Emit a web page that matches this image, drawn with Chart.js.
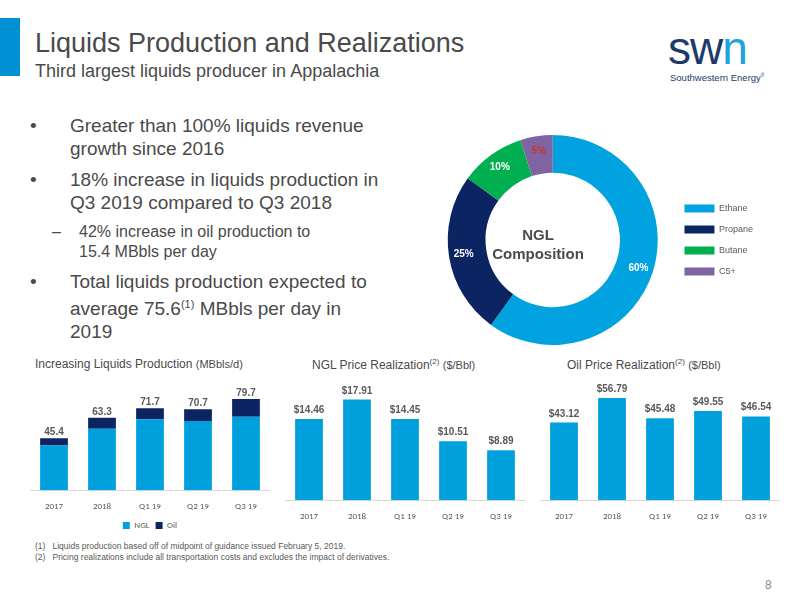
<!DOCTYPE html>
<html><head><meta charset="utf-8">
<script src="https://cdn.jsdelivr.net/npm/chart.js@4"></script>
<style>
body{margin:0;width:800px;height:600px;position:relative;background:#fff;font-family:"Liberation Sans",Arial,sans-serif;color:#595959;overflow:hidden}
.abs{position:absolute}
#bar{left:0;top:18px;width:20px;height:58px;background:#0091d5}
h1{position:absolute;left:35px;top:28px;margin:0;font-weight:normal;font-size:27px;color:#4a4a4a}
h2{position:absolute;left:35px;top:61px;margin:0;font-weight:normal;font-size:18px;color:#4a4a4a}
ul{position:absolute;left:70px;top:114px;margin:0;padding:0;list-style:none;font-size:19px;line-height:23px;color:#4a4a4a;width:322px}
ul li{position:relative;margin-bottom:8px}
ul li b{position:absolute;left:-40px;font-weight:normal}
ul li.sub{font-size:16px;line-height:20px;margin-left:9px;width:262px}
ul li.sub b{left:-27px}
.ct{font-size:12px;color:#4a4a4a}
.fn{font-size:8.5px;color:#595959;left:35px}
</style></head><body>
<div id="bar" class="abs"></div>
<h1>Liquids Production and Realizations</h1>
<h2>Third largest liquids producer in Appalachia</h2>
<div class="abs" style="left:668px;top:28px;font-size:46px;line-height:40px;letter-spacing:-1px"><span style="color:#1d3a6b">sw</span><span style="color:#1fa3dc">n</span></div>
<div class="abs" style="left:670px;top:72px;font-size:9.5px;color:#1d3a6b">Southwestern Energy<sup style="font-size:5px">®</sup></div>
<ul>
<li><b>•</b>Greater than 100% liquids revenue growth since 2016</li>
<li><b>•</b>18% increase in liquids production in Q3 2019 compared to Q3 2018</li>
<li class="sub"><b>–</b>42% increase in oil production to 15.4 MBbls per day</li>
<li><b>•</b>Total liquids production expected to average 75.6<sup style="font-size:11px">(1)</sup> MBbls per day in<br>2019</li>
</ul>
<div class="abs" style="left:433px;top:135px;width:330px;height:210px"><canvas id="donut"></canvas></div>
<div class="abs" style="left:488px;top:225px;width:100px;text-align:center;font-weight:bold;font-size:15px;color:#4a4a4a;line-height:19px">NGL<br>Composition</div>
<div class="abs ct" style="left:35px;top:357px">Increasing Liquids Production <span style="font-size:11px">(MBbls/d)</span></div>
<div class="abs ct" style="left:312px;top:357px">NGL Price Realization<sup style="font-size:8px">(2)</sup> <span style="font-size:11px">($/Bbl)</span></div>
<div class="abs ct" style="left:567px;top:357px">Oil Price Realization<sup style="font-size:8px">(2)</sup> <span style="font-size:11px">($/Bbl)</span></div>
<div class="abs" style="left:30px;top:375px;width:240px;height:165px"><canvas id="c1"></canvas></div>
<div class="abs" style="left:285px;top:375px;width:240px;height:150px"><canvas id="c2"></canvas></div>
<div class="abs" style="left:540px;top:375px;width:240px;height:150px"><canvas id="c3"></canvas></div>
<div class="abs fn" style="top:541px">(1)&nbsp;&nbsp;&nbsp;Liquids production based off of midpoint of guidance issued February 5, 2019.</div>
<div class="abs fn" style="top:552px">(2)&nbsp;&nbsp;&nbsp;Pricing realizations include all transportation costs and excludes the impact of derivatives.</div>
<div class="abs" style="left:765px;top:578px;font-size:12px;color:#888">8</div>
<script>
const periods = ['2017', '2018', 'Q1 19', 'Q2 19', 'Q3 19'];
const nglVolume = [39.0, 53.8, 62.0, 60.5, 64.2];
const oilVolume = [6.4, 9.5, 9.7, 10.2, 15.5];
const totalVolume = [45.4, 63.3, 71.7, 70.7, 79.7];
const nglPrice = [14.46, 17.91, 14.45, 10.51, 8.89];
const oilPrice = [43.12, 56.79, 45.48, 49.55, 46.54];
const nglParts = ['Ethane', 'Propane', 'Butane', 'C5+'];
const nglShare = [60, 25, 10, 5];

const BLUE = '#00a0dc', NAVY = '#0c2461';
Chart.defaults.font.family = 'Calibri, Carlito, "Liberation Sans", sans-serif';
Chart.defaults.color = '#595959';

// labels above bars
const topLabels = {
  id: 'topLabels',
  afterDatasetsDraw(chart, args, opts) {
    const ctx = chart.ctx;
    const last = chart.getDatasetMeta(chart.data.datasets.length - 1);
    ctx.save();
    ctx.font = 'bold 10px "Liberation Sans", sans-serif';
    ctx.fillStyle = '#595959';
    ctx.textAlign = 'center';
    last.data.forEach((bar, i) => {
      ctx.fillText(opts.fmt(opts.values[i]), bar.x, bar.y - 6);
    });
    ctx.restore();
  }
};

function barChart(id, datasets, values, fmt, max, legend) {
  new Chart(document.getElementById(id), {
    type: 'bar',
    data: { labels: periods, datasets: datasets },
    plugins: [topLabels],
    options: {
      responsive: true, maintainAspectRatio: false, animation: false,
      layout: { padding: { top: 10 } },
      plugins: {
        topLabels: { values: values, fmt: fmt },
        tooltip: { enabled: false },
        legend: {
          display: legend, position: 'bottom',
          labels: { boxWidth: 7, boxHeight: 7, font: { size: 9 }, padding: 6 }
        }
      },
      scales: {
        x: { stacked: true, grid: { display: false }, border: { color: '#d9d9d9' }, ticks: { font: { size: 9 } } },
        y: { stacked: true, display: false, min: 0, max: max }
      }
    }
  });
}

barChart('c1', [
  { label: 'NGL', data: nglVolume, backgroundColor: BLUE, categoryPercentage: 0.85, barPercentage: 0.68 },
  { label: 'Oil', data: oilVolume, backgroundColor: NAVY, categoryPercentage: 0.85, barPercentage: 0.68 }
], totalVolume, v => v.toFixed(1), 92, true);

barChart('c2', [
  { label: 'NGL', data: nglPrice, backgroundColor: BLUE, categoryPercentage: 0.85, barPercentage: 0.68 }
], nglPrice, v => '$' + v.toFixed(2), 20.5, false);

barChart('c3', [
  { label: 'Oil', data: oilPrice, backgroundColor: BLUE, categoryPercentage: 0.85, barPercentage: 0.68 }
], oilPrice, v => '$' + v.toFixed(2), 64, false);

const sliceLabels = {
  id: 'sliceLabels',
  afterDatasetsDraw(chart) {
    const ctx = chart.ctx;
    ctx.save();
    ctx.font = 'bold 10px "Liberation Sans", sans-serif';
    ctx.textAlign = 'center';
    ctx.textBaseline = 'middle';
    chart.getDatasetMeta(0).data.forEach((arc, i) => {
      const mid = (arc.startAngle + arc.endAngle) / 2;
      const r = (arc.outerRadius + arc.innerRadius) / 2 + 4;
      ctx.fillStyle = i === 3 ? '#c0392b' : '#fff';
      ctx.fillText(nglShare[i] + '%', arc.x + Math.cos(mid) * r, arc.y + Math.sin(mid) * r);
    });
    ctx.restore();
  }
};

new Chart(document.getElementById('donut'), {
  type: 'doughnut',
  data: {
    labels: nglParts,
    datasets: [{ data: nglShare, backgroundColor: ['#00a3e0', NAVY, '#00b050', '#8064a2'], borderWidth: 0 }]
  },
  plugins: [sliceLabels],
  options: {
    responsive: true, maintainAspectRatio: false, animation: false,
    cutout: '64%',
    plugins: {
      tooltip: { enabled: false },
      legend: {
        position: 'right',
        labels: { boxWidth: 30, boxHeight: 8, padding: 12, color: '#595959', font: { family: '"Liberation Sans", sans-serif', size: 9 } }
      }
    }
  }
});
</script>
</body></html>
